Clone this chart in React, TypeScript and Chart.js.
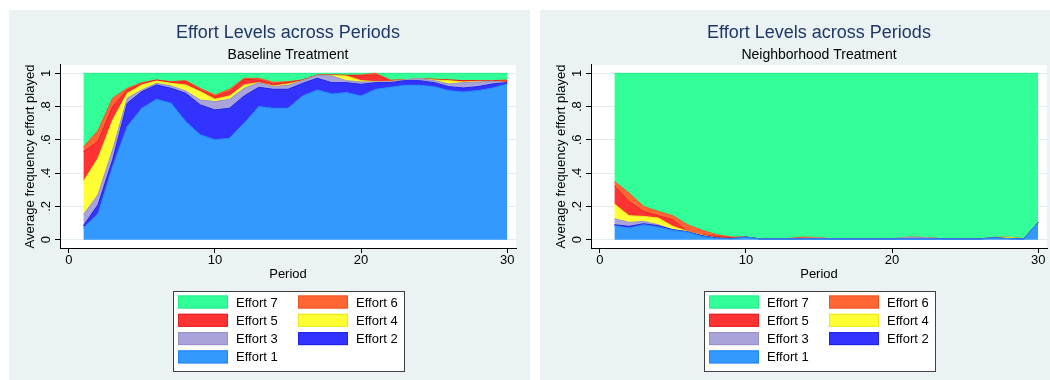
import React, { useEffect, useRef } from 'react';
import { Chart, registerables } from 'chart.js';

Chart.register(...registerables);

const periods = [1, 2, 3, 4, 5, 6, 7, 8, 9, 10, 11, 12, 13, 14, 15, 16, 17, 18, 19, 20, 21, 22, 23, 24, 25, 26, 27, 28, 29, 30];

// Baseline treatment: share of each effort level per period
const baseEffort1 = [0.07, 0.156, 0.44, 0.68, 0.79, 0.844, 0.82, 0.71, 0.63, 0.6, 0.61, 0.7, 0.8, 0.79, 0.79, 0.864, 0.9, 0.876, 0.884, 0.864, 0.904, 0.916, 0.928, 0.928, 0.92, 0.896, 0.888, 0.896, 0.912, 0.936];
const baseEffort2 = [0.014, 0.054, 0.04, 0.14, 0.1, 0.086, 0.09, 0.17, 0.18, 0.18, 0.18, 0.164, 0.116, 0.114, 0.114, 0.076, 0.07, 0.068, 0.06, 0.07, 0.04, 0.028, 0.028, 0.028, 0.024, 0.024, 0.024, 0.024, 0.024, 0.008];
const baseEffort3 = [0.066, 0.06, 0.06, 0.03, 0.01, 0.01, 0.014, 0.014, 0.03, 0.05, 0.054, 0.046, 0.028, 0.016, 0.024, 0.016, 0.018, 0.04, 0.012, 0.014, 0.004, 0.006, 0.004, 0.012, 0.012, 0.016, 0.032, 0.028, 0.016, 0];
const baseEffort4 = [0.2, 0.22, 0.18, 0.03, 0.03, 0.014, 0.016, 0.036, 0.05, 0.014, 0.02, 0.02, 0, 0.004, 0.008, 0, 0, 0.004, 0.028, 0.008, 0.002, 0.002, 0, 0, 0.004, 0.02, 0.004, 0.004, 0, 0];
const baseEffort5 = [0.18, 0.1, 0.08, 0.02, 0.006, 0.006, 0.006, 0.02, 0.01, 0.016, 0.026, 0.034, 0.016, 0.012, 0.008, 0.004, 0.002, 0.002, 0.004, 0.028, 0.04, 0.004, 0, 0, 0.004, 0.004, 0.008, 0.004, 0.004, 0.008];
const baseEffort6 = [0.026, 0.066, 0.05, 0.01, 0.008, 0, 0.004, 0.006, 0.01, 0.01, 0.014, 0.006, 0.01, 0.01, 0.006, 0, 0, 0, 0, 0.006, 0.01, 0.004, 0, 0, 0, 0, 0, 0, 0, 0.008];
const baseEffort7 = [0.444, 0.344, 0.15, 0.09, 0.056, 0.04, 0.05, 0.044, 0.09, 0.13, 0.096, 0.03, 0.03, 0.054, 0.05, 0.04, 0.01, 0.01, 0.012, 0.01, 0, 0.04, 0.04, 0.032, 0.036, 0.04, 0.044, 0.044, 0.044, 0.04];

// Neighborhood treatment
const nbEffort1 = [0.084, 0.07, 0.09, 0.076, 0.056, 0.046, 0.02, 0.008, 0.006, 0.016, 0.004, 0.004, 0.004, 0.004, 0.004, 0.004, 0.004, 0.004, 0.004, 0.004, 0.004, 0.004, 0.004, 0.004, 0.004, 0.004, 0.012, 0.006, 0.004, 0.104];
const nbEffort2 = [0.006, 0.01, 0.006, 0.008, 0.004, 0.002, 0.004, 0.002, 0, 0, 0, 0, 0, 0, 0, 0, 0, 0, 0, 0, 0, 0, 0, 0, 0, 0, 0, 0, 0, 0];
const nbEffort3 = [0.036, 0.024, 0.014, 0.006, 0, 0, 0, 0, 0, 0, 0, 0, 0, 0.004, 0.006, 0, 0, 0, 0, 0, 0.01, 0.01, 0.004, 0, 0, 0, 0, 0, 0, 0];
const nbEffort4 = [0.088, 0.04, 0.03, 0.04, 0.02, 0.002, 0.004, 0, 0, 0, 0, 0, 0, 0, 0, 0, 0, 0, 0, 0, 0, 0, 0, 0, 0, 0, 0.002, 0.008, 0.002, 0];
const nbEffort5 = [0.11, 0.086, 0.03, 0.014, 0.04, 0, 0.002, 0.01, 0.006, 0, 0, 0, 0, 0, 0, 0, 0, 0, 0, 0, 0, 0, 0, 0, 0, 0, 0, 0, 0, 0];
const nbEffort6 = [0.026, 0.05, 0.03, 0.026, 0.024, 0.04, 0.026, 0.01, 0.004, 0, 0, 0, 0.004, 0.008, 0.002, 0, 0, 0, 0, 0, 0, 0, 0, 0, 0, 0, 0, 0, 0, 0];
const nbEffort7 = [0.65, 0.72, 0.8, 0.83, 0.856, 0.91, 0.944, 0.97, 0.984, 0.984, 0.996, 0.996, 0.992, 0.984, 0.988, 0.996, 0.996, 0.996, 0.996, 0.996, 0.986, 0.986, 0.992, 0.996, 0.996, 0.996, 0.986, 0.986, 0.994, 0.896];

const effortLabels = ['Effort 1', 'Effort 2', 'Effort 3', 'Effort 4', 'Effort 5', 'Effort 6', 'Effort 7'];
const fillColors = ['#3399ff', '#3333ff', '#a8a4da', '#ffff33', '#ff3333', '#ff6633', '#33ff99'];
const lineColors = ['#1f86f5', '#2020e8', '#9490cc', '#e8e81a', '#e81e1e', '#f0521e', '#22ec88'];
const legendOrder = [6, 5, 4, 3, 2, 1, 0];

const xTicks = [0, 10, 20, 30];
const yTicks = [0, 0.2, 0.4, 0.6, 0.8, 1];
const yTickLabels = ['0', '.2', '.4', '.6', '.8', '1'];

const chartTitle = 'Effort Levels across Periods';
const xTitle = 'Period';
const yTitle = 'Average frequency effort played';

const FONT = '"Liberation Sans", Arial, Helvetica, sans-serif';
const CW = 521;
const CH = 370;

const plotBg = {
  id: 'plotBg',
  beforeDraw(chart: any) {
    const { ctx, chartArea } = chart;
    ctx.save();
    ctx.fillStyle = '#ffffff';
    ctx.fillRect(chartArea.left, chartArea.top, chartArea.right - chartArea.left, chartArea.bottom - chartArea.top);
    ctx.restore();
  },
};

const yLabelsPlugin = {
  id: 'yLabelsRot',
  afterDraw(chart: any) {
    const { ctx } = chart;
    const ys = chart.scales.y;
    ctx.save();
    ctx.fillStyle = '#000';
    ctx.font = `13px ${FONT}`;
    ctx.textAlign = 'center';
    ctx.textBaseline = 'alphabetic';
    yTicks.forEach((v, i) => {
      const py = ys.getPixelForValue(v);
      ctx.save();
      ctx.translate(41, py);
      ctx.rotate(-Math.PI / 2);
      ctx.fillText(yTickLabels[i], 0, 0);
      ctx.restore();
    });
    ctx.restore();
  },
};

const legendBox = {
  id: 'legendBox',
  afterDraw(chart: any) {
    const { ctx, chartArea } = chart;
    const ds = chart.data.datasets;
    const cx = (chartArea.left + chartArea.right) / 2;
    const bw = 231;
    const bx = Math.round(cx - bw / 2) + 0.5;
    const by = 281.5;
    const bh = 80;
    ctx.save();
    ctx.fillStyle = '#ffffff';
    ctx.fillRect(bx, by, bw, bh);
    ctx.strokeStyle = '#404040';
    ctx.lineWidth = 1;
    ctx.strokeRect(bx, by, bw, bh);
    ctx.font = `13px ${FONT}`;
    ctx.textBaseline = 'alphabetic';
    ctx.textAlign = 'left';
    legendOrder.forEach((di, k) => {
      const col = k % 2;
      const row = Math.floor(k / 2);
      const sx = bx + 4.5 + col * 120;
      const sy = by + 4 + row * 18.3;
      ctx.fillStyle = ds[di].backgroundColor;
      ctx.fillRect(sx, sy, 50, 13);
      ctx.strokeStyle = ds[di].borderColor;
      ctx.strokeRect(sx + 0.5, sy + 0.5, 49, 12);
      ctx.fillStyle = '#000';
      ctx.fillText(ds[di].label, sx + 58, sy + 11);
    });
    ctx.restore();
  },
};

function Panel({ subtitle, series, left }: { subtitle: string; series: number[][]; left: number }) {
  const ref = useRef<HTMLCanvasElement | null>(null);
  useEffect(() => {
    if (!ref.current) return;
    const datasets = series.map((vals, i) => ({
      label: effortLabels[i],
      data: periods.map((p, j) => ({ x: p, y: vals[j] })),
      backgroundColor: fillColors[i],
      borderColor: lineColors[i],
      borderWidth: 1,
      pointRadius: 0,
      tension: 0,
      fill: i === 0 ? 'origin' : '-1',
    }));
    const chart = new Chart(ref.current, {
      type: 'line',
      data: { datasets },
      options: {
        animation: false,
        responsive: false,
        maintainAspectRatio: false,
        layout: { padding: { left: 0, right: 14, top: 0, bottom: CH - 238 - 45 } },
        plugins: {
          legend: { display: false },
          tooltip: { enabled: false },
          title: {
            display: true,
            text: chartTitle,
            fullSize: false,
            color: '#1e3765',
            font: { family: FONT, size: 18, weight: 'normal' },
            padding: { top: 12, bottom: 0 },
          },
          subtitle: {
            display: true,
            text: subtitle,
            fullSize: false,
            color: '#000',
            font: { family: FONT, size: 14, weight: 'normal' },
            padding: { top: 2.7, bottom: 1.9 },
          },
        },
        scales: {
          x: {
            type: 'linear',
            min: -0.6,
            max: 30.6,
            afterBuildTicks: (s: any) => {
              s.ticks = xTicks.map((v) => ({ value: v }));
            },
            afterFit: (s: any) => {
              s.height = 45;
            },
            ticks: { color: '#000', font: { family: FONT, size: 13 }, padding: 0, autoSkip: false, maxRotation: 0, minRotation: 0 },
            grid: { drawOnChartArea: false, drawTicks: true, tickLength: 5, tickColor: '#000' },
            border: { display: true, color: '#000', width: 1 },
            title: { display: true, text: xTitle, color: '#000', font: { family: FONT, size: 13 }, padding: { top: 0, bottom: 10.7 } },
          },
          y: {
            stacked: true,
            min: -0.05,
            max: 1.05,
            afterBuildTicks: (s: any) => {
              s.ticks = yTicks.map((v) => ({ value: v }));
            },
            afterFit: (s: any) => {
              s.width = 51;
            },
            ticks: { display: false },
            grid: { color: '#e4ecef', lineWidth: 1, drawTicks: true, tickLength: 5, tickColor: '#000' },
            border: { display: true, color: '#000', width: 1 },
            title: { display: true, text: yTitle, color: '#000', font: { family: FONT, size: 13 }, padding: { top: 14, bottom: 0 } },
          },
        },
      },
      plugins: [plotBg, yLabelsPlugin, legendBox],
    } as any);
    return () => chart.destroy();
  }, []);
  return (
    <div style={{ position: 'absolute', left, top: 10, width: CW, height: CH, background: '#eaf2f3' }}>
      <canvas ref={ref} width={CW} height={CH} style={{ display: 'block', width: CW, height: CH }} />
    </div>
  );
}

export default function App() {
  const baseSeries = [baseEffort1, baseEffort2, baseEffort3, baseEffort4, baseEffort5, baseEffort6, baseEffort7];
  const nbSeries = [nbEffort1, nbEffort2, nbEffort3, nbEffort4, nbEffort5, nbEffort6, nbEffort7];
  return (
    <div style={{ position: 'absolute', left: 0, top: 0, width: 1050, height: 380, overflow: 'hidden', background: '#ffffff' }}>
      <Panel subtitle="Baseline Treatment" series={baseSeries} left={9} />
      <Panel subtitle="Neighborhood Treatment" series={nbSeries} left={540} />
    </div>
  );
}
